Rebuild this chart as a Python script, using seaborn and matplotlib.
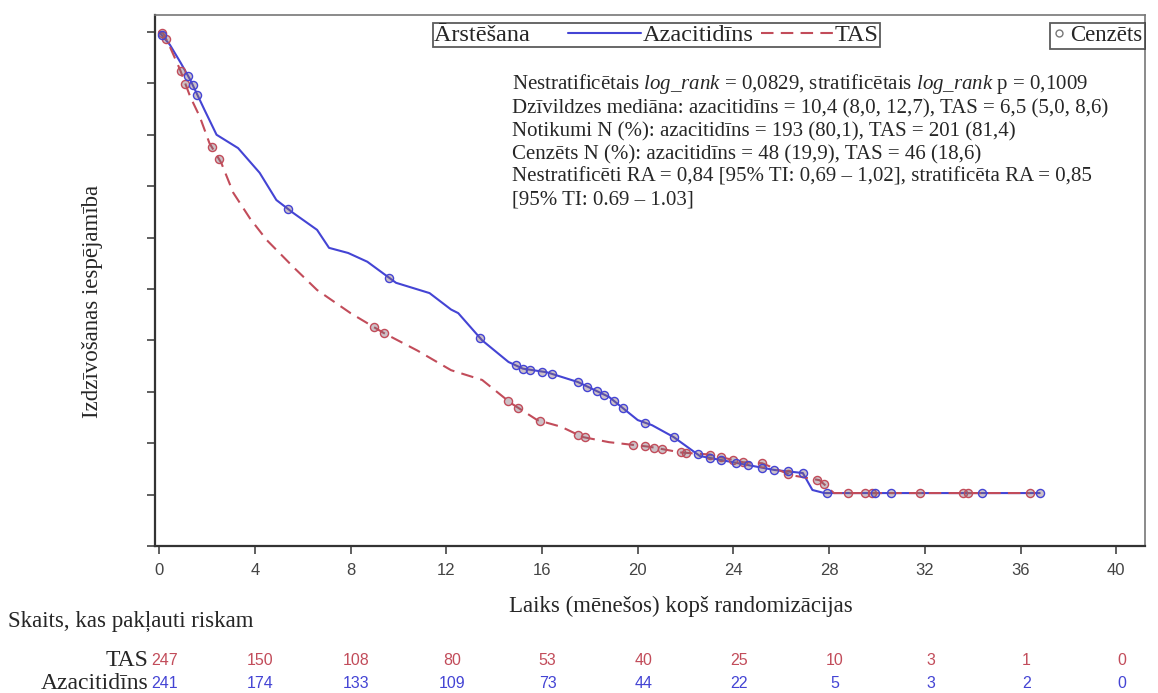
import numpy as np
import pandas as pd
import seaborn as sns
import matplotlib.pyplot as plt
from matplotlib.lines import Line2D

# Kaplan-Meier līknes (nolasītas no attēla)
aza_t = [0, 0.45, 0.9, 1.3, 1.9, 2.4, 3.3, 4.2, 4.9, 5.6, 6.6, 7.1, 7.9, 8.7, 9.9, 11.3,
         12.2, 12.5, 13.5, 14.6, 15.2, 16.2, 17.5, 18.8, 20.0, 20.6, 21.5, 22.6, 24.2,
         25.7, 26.9, 27.3, 27.8, 36.8]
aza_s = [1.0, 0.975, 0.94, 0.907, 0.848, 0.80, 0.774, 0.726, 0.673, 0.648, 0.615, 0.58,
         0.57, 0.553, 0.512, 0.492, 0.46, 0.453, 0.40, 0.358, 0.345, 0.338, 0.319, 0.29,
         0.245, 0.235, 0.212, 0.175, 0.161, 0.148, 0.142, 0.109, 0.103, 0.103]
tas_t = [0, 0.17, 0.46, 0.88, 1.3, 1.7, 2.1, 2.6, 3.1, 3.8, 4.5, 5.2, 5.6, 6.6, 8.0, 9.4,
         10.8, 12.2, 13.5, 14.7, 15.8, 16.8, 17.7, 18.8, 20.5, 21.8, 23.0, 24.4, 25.2,
         26.4, 27.6, 28.2, 36.4]
tas_s = [1.0, 0.998, 0.97, 0.926, 0.874, 0.835, 0.784, 0.745, 0.687, 0.637, 0.595, 0.562,
         0.543, 0.498, 0.453, 0.414, 0.38, 0.342, 0.323, 0.278, 0.245, 0.232, 0.212, 0.202,
         0.193, 0.182, 0.178, 0.163, 0.161, 0.138, 0.128, 0.103, 0.103]

# cenzētie laiki
aza_cens = [0.1, 1.2, 1.4, 1.6, 5.4, 9.6, 13.4, 14.9, 15.2, 15.5, 16.0, 16.4, 17.5, 17.9,
            18.3, 18.6, 19.0, 19.4, 20.3, 21.5, 22.5, 23.0, 23.5, 24.1, 24.6, 25.2, 25.7,
            26.3, 26.9, 27.9, 29.9, 30.6, 34.4, 36.8]
tas_cens = [0.1, 0.3, 0.9, 1.1, 2.2, 2.5, 9.0, 9.4, 14.6, 15.0, 15.9, 17.5, 17.8, 19.8,
            20.3, 20.7, 21.0, 21.8, 22.0, 23.0, 23.5, 24.0, 24.4, 25.2, 26.3, 27.5, 27.8,
            28.8, 29.5, 29.8, 31.8, 33.6, 33.8, 36.4]

# pakļauti riskam
risk_times = [0, 4, 8, 12, 16, 20, 24, 28, 32, 36, 40]
risk_tas = [247, 150, 108, 80, 53, 40, 25, 10, 3, 1, 0]
risk_aza = [241, 174, 133, 109, 73, 44, 22, 5, 3, 2, 0]

stats_lines = [
    "Nestratificētais $\\mathit{log\\_rank}$ = 0,0829, stratificētais $\\mathit{log\\_rank}$ p = 0,1009",
    "Dzīvildzes mediāna: azacitidīns = 10,4 (8,0, 12,7), TAS = 6,5 (5,0, 8,6)",
    "Notikumi N (%): azacitidīns = 193 (80,1), TAS = 201 (81,4)",
    "Cenzēts N (%): azacitidīns = 48 (19,9), TAS = 46 (18,6)",
    "Nestratificēti RA = 0,84 [95% TI: 0,69 – 1,02], stratificēta RA = 0,85",
    "[95% TI: 0.69 – 1.03]",
]

blue = "#4444d4"
red = "#c24c5a"

sns.set_style("white")
plt.rcParams["font.family"] = ["Liberation Serif", "DejaVu Serif"]
plt.rcParams["mathtext.fontset"] = "custom"
plt.rcParams["mathtext.rm"] = "Liberation Serif"
plt.rcParams["mathtext.it"] = "Liberation Serif:italic"

fig = plt.figure(figsize=(11.58, 6.93), dpi=100)
ax = fig.add_axes([0.1339, 0.2121, 0.8549, 0.7663])

curves = pd.concat([
    pd.DataFrame({"t": aza_t, "s": aza_s, "grupa": "Azacitidīns"}),
    pd.DataFrame({"t": tas_t, "s": tas_s, "grupa": "TAS"}),
])
sns.lineplot(data=curves, x="t", y="s", hue="grupa", style="grupa",
             palette={"Azacitidīns": blue, "TAS": red},
             dashes={"Azacitidīns": "", "TAS": (6, 3.5)},
             estimator=None, sort=False, linewidth=1.5, legend=False, ax=ax)

cens = pd.concat([
    pd.DataFrame({"t": aza_cens, "s": np.interp(aza_cens, aza_t, aza_s), "grupa": "Azacitidīns"}),
    pd.DataFrame({"t": tas_cens, "s": np.interp(tas_cens, tas_t, tas_s), "grupa": "TAS"}),
])
for g, c in [("TAS", red), ("Azacitidīns", blue)]:
    sub = cens[cens["grupa"] == g]
    sns.scatterplot(data=sub, x="t", y="s", marker="o", s=34,
                    facecolor=(0.5, 0.4, 0.45, 0.4), edgecolor=c, linewidth=1.0,
                    legend=False, ax=ax, zorder=3)

ax.set_xlim(-0.17, 41.2)
ax.set_ylim(0, 1.033)
ax.set_xticks(risk_times)
ax.set_xticklabels([str(v) for v in risk_times], family="Liberation Sans",
                   fontsize=12, color="#444444")
ax.set_yticks(np.arange(0, 1.01, 0.1))
ax.set_yticklabels([])
ax.tick_params(axis="both", direction="out", length=6, width=1.2, color="#444444",
               left=True, bottom=True)
ax.tick_params(axis="x", pad=6)
for side in ["left", "bottom"]:
    ax.spines[side].set_linewidth(1.6)
    ax.spines[side].set_color("#333333")
for side in ["top", "right"]:
    ax.spines[side].set_linewidth(1.2)
    ax.spines[side].set_color("#777777")

ax.set_xlabel("Laiks (mēnešos) kopš randomizācijas", fontsize=16.5, labelpad=13, x=0.531)
ax.set_ylabel("Izdzīvošanas iespējamība", fontsize=16.5, labelpad=28, y=0.46)

# leģendas
h_aza = Line2D([], [], color=blue, linewidth=1.5)
h_tas = Line2D([], [], color=red, linewidth=1.5, dashes=(6, 3.5))
leg = ax.legend([h_aza, h_tas], ["Azacitidīns", "TAS"], ncol=2, title="Ārstēšana     ",
                loc="upper left", bbox_to_anchor=(0.281, 0.985), fontsize=17.5,
                title_fontsize=17.5, handlelength=3.0, handletextpad=0.05,
                columnspacing=0.3, frameon=True, fancybox=False, edgecolor="#333333",
                borderpad=0.05, borderaxespad=0)
leg.get_frame().set_linewidth(1.3)
box = leg.get_children()[0]
title = box.get_children()[0]
hpack = box.get_children()[1]
box._children = [hpack]
hpack._children = [title] + hpack.get_children()
ax.add_artist(leg)

h_cens = Line2D([], [], linestyle="none", marker="o", markersize=5,
                markerfacecolor="white", markeredgecolor="#777777")
leg2 = ax.legend([h_cens], ["Cenzēts"], loc="upper right", bbox_to_anchor=(1.0, 0.985),
                 fontsize=16.5, handlelength=0.6, handletextpad=0.2, frameon=True,
                 fancybox=False, edgecolor="#333333", borderpad=0.1, borderaxespad=0)
leg2.get_frame().set_linewidth(1.3)

ax.text(0.3607, 0.893, "\n".join(stats_lines), transform=ax.transAxes, fontsize=15,
        va="top", ha="left", linespacing=1.25)

# riskam pakļautie
fig.text(8 / 1158, 1 - 621 / 693, "Skaits, kas pakļauti riskam", fontsize=16.5,
         va="center", ha="left")
for vals, lab, c, y in [(risk_tas, "TAS", red, -0.215), (risk_aza, "Azacitidīns", blue, -0.258)]:
    ax.text(-0.007, y, lab, transform=ax.transAxes, fontsize=17, ha="right", va="center")
    for t, v in zip(risk_times, vals):
        ax.annotate(str(v), xy=(t, y), xycoords=("data", "axes fraction"), xytext=(4, 0),
                    textcoords="offset points", ha="center", va="center",
                    family="Liberation Sans", fontsize=11.5, color=c, annotation_clip=False)

fig.savefig("out.png", dpi=100)
